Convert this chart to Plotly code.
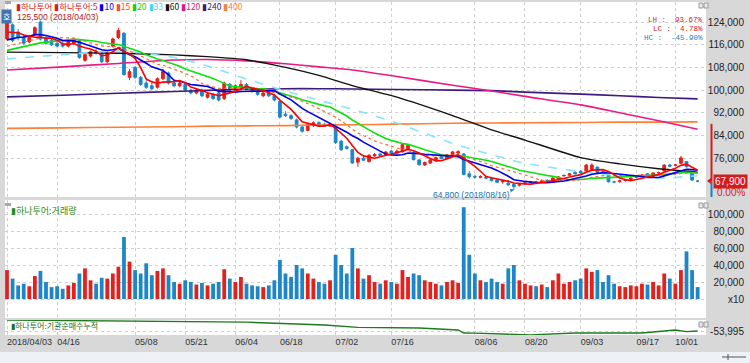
import plotly.graph_objects as go
import pandas as pd

# ---------------- data ----------------
dates = [
    "04/03","04/04","04/05","04/06","04/09","04/10","04/11","04/12","04/13","04/16",
    "04/17","04/18","04/19","04/20","04/23","04/24","04/25","04/26","04/27","04/30",
    "05/02","05/03","05/04","05/08","05/09","05/10","05/11","05/14","05/15","05/16",
    "05/17","05/18","05/21","05/23","05/24","05/25","05/28","05/29","05/30","05/31",
    "06/01","06/04","06/05","06/07","06/08","06/11","06/12","06/14","06/15","06/18",
    "06/19","06/20","06/21","06/22","06/25","06/26","06/27","06/28","06/29",
    "07/02","07/03","07/04","07/05","07/06","07/09","07/10","07/11","07/12","07/13",
    "07/16","07/17","07/18","07/19","07/20","07/23","07/24","07/25","07/26","07/27",
    "07/30","07/31",
    "08/01","08/02","08/03","08/06","08/07","08/08","08/09","08/10","08/13","08/14",
    "08/16","08/17","08/20","08/21","08/22","08/23","08/24","08/27","08/28","08/29",
    "08/30","08/31",
    "09/03","09/04","09/05","09/06","09/07","09/10","09/11","09/12","09/13","09/14",
    "09/17","09/18","09/19","09/20","09/21","09/27","09/28",
    "10/01","10/02","10/04","10/05","10/08",
]

opens = [118000,123000,120500,118500,117000,119500,124000,118500,117500,116500,
         116000,115500,116500,117500,110500,112000,113500,113000,110000,115500,
         118500,120000,104500,108000,104500,102500,101500,101000,104000,106000,
         102500,101500,102000,100000,99000,100000,97500,98500,99000,97000,
         102000,100000,101000,102000,100500,99500,98000,99000,98000,96000,
         91500,91000,89500,87000,85800,87500,88500,88000,87300,
         87000,82000,80000,79000,74600,76000,74800,76800,77500,77200,
         78500,77800,78300,79200,78000,75400,73600,74300,75400,76500,
         75800,77100,
         77800,77500,70500,69500,69300,69200,68800,68300,67700,67200,
         66800,66500,67000,67500,67600,67500,68200,67700,68400,69800,
         70000,71000,
         71400,71000,72000,72900,71300,70000,67600,67700,68100,68500,
         69300,69400,70500,69500,70800,71500,73600,
         73500,74200,74800,70800,67900]
highs = [125500,123500,121500,119500,119500,122500,124500,119000,118000,117500,
         117000,117500,118500,118000,113000,114000,114500,113500,113500,118500,
         122000,120500,107500,108500,105000,103500,102500,104500,107500,106500,
         103500,103000,102500,100500,100500,100500,99000,99000,99500,103000,
         102500,102000,103500,102500,101000,100000,99500,99500,98500,96500,
         92500,91500,90000,87500,88500,89000,89000,88500,88500,
         87500,82500,80500,79200,76500,76500,77500,77800,78000,78500,
         79000,79000,81200,80800,78300,75600,74800,75800,76600,77000,
         77500,78600,
         78800,77800,71500,70200,70000,69800,69300,68700,68500,68300,
         67200,67200,67800,68000,68000,68500,68600,69300,69700,70300,
         70800,71400,
         71800,74000,74200,73000,71500,70200,68000,68400,68700,69200,
         69800,70400,70800,71000,71300,73800,74000,
         74000,76800,75000,71000,68200]
lows = [117500,117000,117500,116000,116500,119000,117500,116000,115500,115000,
        115000,115000,116000,111000,110000,111500,112500,109500,109500,115000,
        118000,105000,103500,104000,101500,100500,100000,100500,103500,102000,
        101000,101000,99500,98500,98500,97500,97000,96500,96000,96500,
        99500,99500,100500,100000,99000,98000,97500,97500,96000,90000,
        90500,89500,86500,85000,85500,87000,87000,87000,87000,
        81000,78500,79000,74000,73000,75000,74500,76500,76800,77000,
        77500,77500,78000,78800,75200,73400,73300,74000,75000,75600,
        75600,76900,
        77500,70000,68800,68800,68900,68600,67800,67200,67000,66300,
        64800,66000,66800,67200,67000,67300,67800,67500,68200,69500,
        69800,70300,
        70600,70800,71600,70800,70500,67400,67200,67400,67800,68200,
        69000,69200,69800,69300,70500,71300,72800,
        73200,74000,72700,68000,67500]
closes = [124000,117500,118500,116500,118500,122000,118000,116500,116000,115500,
          115500,117000,118000,111500,112500,113500,113000,110000,113000,118000,
          121000,105500,106500,104500,102000,101000,100500,104000,106500,102500,
          101500,102500,100000,99000,100000,98000,98500,97000,96500,102500,
          100000,101500,102000,100500,99500,98500,99000,98000,96500,90500,
          91000,90000,87000,85500,88000,88500,87500,87200,88000,
          81500,79000,79500,74300,76000,75300,77000,77300,77000,78200,
          77800,78500,80800,80500,75500,73700,74500,75400,76200,75900,
          77200,78200,
          78300,70300,69500,69400,69500,69000,68100,67500,68000,66600,
          66000,66800,67300,67600,67500,68000,68000,69000,69400,69900,
          70500,70500,
          70800,73600,73600,71000,70800,67700,67600,68000,68300,69000,
          69500,70100,70000,70800,70900,73600,73200,
          73600,76100,73000,68300,67900]
volumes = [34000,24000,16000,18000,15000,27000,33000,20000,14000,15000,
           12000,16000,19000,30000,36000,22000,18000,25000,24000,30000,
           38000,73000,44000,34000,30000,42000,28000,33000,36000,28000,
           20000,18000,22000,20000,17000,19000,16000,18000,20000,35000,
           24000,20000,26000,18000,16000,15000,14000,16000,22000,46000,
           30000,26000,40000,36000,30000,24000,20000,18000,22000,
           52000,40000,30000,60000,36000,24000,28000,20000,18000,22000,
           20000,18000,34000,26000,30000,28000,22000,20000,18000,16000,
           20000,22000,
           19000,108000,52000,30000,22000,20000,24000,20000,18000,36000,
           40000,22000,18000,16000,15000,17000,14000,22000,30000,18000,
           20000,22000,
           24000,36000,32000,34000,20000,28000,18000,15000,14000,16000,
           15000,18000,17000,20000,16000,30000,24000,
           18000,34000,56000,34000,14000]

# closes before 2018/04/03 (estimated from where the short MA lines start)
prior_closes = [108000,109000,110500,109500,111000,110000,111500,112000,110500,111000,
                113000,114500,115000,116000,116000,118000,119500,120500,120500]

# long moving averages
ma_dates = ["04/03","04/17","05/02","05/17","05/28","06/07","06/19","06/27","07/05",
            "07/17","07/31","08/09","08/20","09/03","09/12","09/21","10/08"]
ma33_vals  = [111000,112500,113800,111500,108500,103900,99700,96400,93300,
              88400,81200,77200,74200,71300,69900,69000,69800]
ma60_vals  = [113400,113200,113000,112400,111800,110700,108000,105200,101600,
              97500,91000,86000,82400,76200,74000,72300,71100]
ma120_vals = [107100,108200,109400,110600,110800,110300,109300,108200,107100,
              104800,101700,99700,97800,94800,92000,89200,86200]
ma240_vals = [97600,98200,98900,99500,99900,100300,100500,100500,100400,
              100200,100000,99800,99300,98600,98000,97400,96900]
ma400_vals = [86500,86700,86900,87100,87300,87400,87500,87700,87800,
              88000,88300,88400,88500,88600,88700,88700,88800]

# institutional net buying (cumulative)
inst_dates = ["04/03","04/26","05/25","06/07","06/21","06/28","07/06","07/23","08/01",
              "08/02","08/06","08/21","08/31","09/18","10/01","10/04","10/08"]
inst_vals = [-21000,-24000,-27000,-27500,-33000,-36000,-43000,-45000,-51000,
             -60000,-60500,-65500,-60000,-60000,-51000,-56000,-53995]

tick_dates = ["04/03","04/16","05/08","05/21","06/04","06/18","07/02","07/16",
              "08/06","08/20","09/03","09/17","10/01"]
tick_labels = ["2018/04/03","04/16","05/08","05/21","06/04","06/18","07/02","07/16",
               "08/06","08/20","09/03","09/17","10/01"]

price_ticks = [76000, 84000, 92000, 100000, 108000, 116000, 124000]
vol_ticks = [0, 20000, 40000, 60000, 80000, 100000]
vol_tick_labels = ["x10", "20,000", "40,000", "60,000", "80,000", "100,000"]

# ---------------- build ----------------
N = len(dates)
xi = list(range(N))
pos = {d: i for i, d in enumerate(dates)}

allc = pd.Series(prior_closes + closes, dtype=float)
def sma(n):
    return allc.rolling(n).mean().iloc[len(prior_closes):].tolist()

RED = "#e3211c"
BLUE = "#1c86c8"

W, H = 750, 363
ML, MR, MT, MB = 5, 3, 2, 28
PW, PH = W - ML - MR, H - MT - MB
def px(x):
    return (x - ML) / PW
def py(y):
    return (H - MB - y) / PH

xdom = [0, px(706)]
xr = [-0.36, 125.5]

fig = go.Figure()

fig.add_trace(go.Candlestick(
    x=xi, open=opens, high=highs, low=lows, close=closes,
    increasing=dict(line=dict(color=RED, width=1), fillcolor=RED),
    decreasing=dict(line=dict(color=BLUE, width=1), fillcolor=BLUE),
    whiskerwidth=0, showlegend=False, hoverinfo="skip", xaxis="x", yaxis="y"))

sparse_x = [pos[d] for d in ma_dates]
for vals, col, wd, dash in [
        (ma400_vals, "#ff7f3a", 1.6, "solid"),
        (ma240_vals, "#3f1a7e", 1.6, "solid"),
        (ma120_vals, "#ea1a84", 1.6, "solid"),
        (ma60_vals, "#111111", 1.4, "solid"),
        (ma33_vals, "#86e4ff", 1.6, "dash")]:
    fig.add_trace(go.Scatter(x=sparse_x, y=vals, mode="lines",
                             line=dict(color=col, width=wd, dash=dash, shape="spline", smoothing=0.6),
                             showlegend=False, hoverinfo="skip", xaxis="x", yaxis="y"))

for n, col, wd, dash in [(20, "#10e010", 1.6, "solid"), (15, "#ff6a3a", 1.2, "dot"),
                         (10, "#0000e6", 1.6, "solid"), (5, "#ff0000", 1.6, "solid")]:
    fig.add_trace(go.Scatter(x=xi, y=sma(n), mode="lines",
                             line=dict(color=col, width=wd, dash=dash),
                             showlegend=False, hoverinfo="skip", xaxis="x", yaxis="y"))

vcol = [RED if c > o else BLUE for o, c in zip(opens, closes)]
fig.add_trace(go.Bar(x=xi, y=volumes, marker=dict(color=vcol, line=dict(width=0)),
                     width=0.68, showlegend=False, hoverinfo="skip", xaxis="x2", yaxis="y2"))

fig.add_trace(go.Scatter(x=[pos[d] for d in inst_dates], y=inst_vals, mode="lines",
                         line=dict(color="#1f7a1f", width=1.4),
                         showlegend=False, hoverinfo="skip", xaxis="x3", yaxis="y3"))

GRID = "#cfcfcf"
TF = dict(size=10, color="#222222", family="Liberation Sans, Noto Sans CJK KR")
tickvals = [pos[d] for d in tick_dates]

xbase = dict(domain=xdom, range=xr, tickvals=tickvals, showgrid=True, gridcolor=GRID,
             griddash="dot", gridwidth=1, zeroline=False, ticks="", showline=False)
yfree = dict(anchor="free", position=1.0, side="left", showgrid=True, gridcolor=GRID,
             griddash="dot", zeroline=False, ticks="", tickfont=TF, showline=False,
             ticklabelstandoff=3, automargin=False)

fig.update_layout(
    width=W, height=H,
    margin=dict(l=ML, r=MR, t=MT, b=MB),
    paper_bgcolor="#d8d8d8", plot_bgcolor="#ffffff",
    font=dict(family="Liberation Sans, Noto Sans CJK KR", size=10, color="#222"),
    bargap=0.3,
    xaxis=dict(**xbase, anchor="y", showticklabels=False, rangeslider=dict(visible=False)),
    xaxis2=dict(**xbase, anchor="y2", matches="x", showticklabels=False),
    xaxis3=dict(**xbase, anchor="y3", matches="x", showticklabels=True,
                ticktext=tick_labels, ticklabelposition="outside right",
                tickfont=dict(size=9, color="#333", family="Liberation Sans")),
    yaxis=dict(**yfree, domain=[py(197), py(2)], range=[62330, 131048],
               tickvals=price_ticks, tickformat=","),
    yaxis2=dict(**yfree, domain=[py(318), py(200)], range=[-22350, 116470],
                tickvals=vol_ticks, ticktext=vol_tick_labels),
    yaxis3=dict(**yfree, domain=[0, py(320)], range=[-65995, -20995],
                tickvals=[inst_vals[-1]], ticktext=[f"{inst_vals[-1]:,}"]),
)

shapes = []
# bottom scrollbar strip
shapes.append(dict(type="rect", xref="paper", yref="paper", x0=px(0), x1=px(750),
                   y0=py(363), y1=py(352), fillcolor="#eef1f5", line=dict(width=0)))
shapes.append(dict(type="line", xref="paper", yref="paper", x0=px(722), x1=px(746),
                   y0=py(357), y1=py(357), line=dict(color="#555", width=1)))
shapes.append(dict(type="line", xref="paper", yref="paper", x0=px(728), x1=px(728),
                   y0=py(354), y1=py(360), line=dict(color="#555", width=1)))
# window buttons on each panel
for yb in (3, 203, 322):
    for xb in (699, 704):
        shapes.append(dict(type="rect", xref="paper", yref="paper", x0=px(xb), x1=px(xb + 4),
                           y0=py(yb + 5), y1=py(yb), fillcolor="#e8e8e8",
                           line=dict(color="#9a9a9a", width=1)))
# small grip icons
for yb in (1, 203):
    shapes.append(dict(type="rect", xref="paper", yref="paper", x0=px(5), x1=px(11),
                       y0=py(yb + 3), y1=py(yb), fillcolor="#a8a8a8", line=dict(width=0)))
# current price bar on the price axis
shapes.append(dict(type="line", xref="paper", yref="y", x0=px(711.5), x1=px(711.5),
                   y0=closes[-1], y1=ma400_vals[-1] - 700, line=dict(color="#d41c1c", width=2)))
shapes.append(dict(type="line", xref="paper", yref="y", x0=px(711.5), x1=px(711.5),
                   y0=62330, y1=closes[-1], line=dict(color="#1c7fc8", width=2)))
shapes.append(dict(type="path", xref="paper", yref="paper",
                   path=f"M {px(707)} {py(181)} L {px(711)} {py(178)} L {px(711)} {py(184)} Z",
                   fillcolor="#d41c1c", line=dict(width=0)))
fig.update_layout(shapes=shapes)

ann = []
legend_html = (
    "<span style='color:#d42020'>▮하나투어</span> "
    "<span style='color:#d42020'>▮하나투어:5</span> "
    "<span style='color:#0000e6'>▮10</span> "
    "<span style='color:#ff4a2a'>▮15</span> "
    "<span style='color:#10d010'>▮20</span> "
    "<span style='color:#40d8f0'>▮33</span> "
    "<span style='color:#111111'>▮60</span> "
    "<span style='color:#e0187c'>▮120</span> "
    "<span style='color:#3f1a7e'>▮240</span> "
    "<span style='color:#ff7f3a'>▮400</span>")
ann.append(dict(xref="paper", yref="paper", x=px(14), y=py(5.5), xanchor="left", yanchor="middle",
                text=legend_html, showarrow=False,
                font=dict(size=8.5, family="Noto Sans CJK KR, Liberation Sans")))
hi_i = highs.index(max(highs))
ann.append(dict(xref="x", yref="y", x=hi_i, y=highs[hi_i], xanchor="left", yanchor="middle",
                xshift=8, yshift=1, showarrow=False,
                text=f"{highs[hi_i]:,} (2018/{dates[hi_i]})",
                font=dict(size=8.5, color="#b01818", family="Liberation Sans")))
lo_i = lows.index(min(lows))
ann.append(dict(xref="x", yref="y", x=lo_i, y=lows[lo_i], ax=-42, ay=5,
                showarrow=True, arrowhead=2, arrowsize=0.7, arrowwidth=1, arrowcolor="#1c6fb0",
                text=f"{lows[lo_i]:,} (2018/{dates[lo_i]})",
                font=dict(size=8.5, color="#1c6fb0", family="Liberation Sans")))
ann.append(dict(xref="paper", yref="paper", x=px(1), y=py(17), xanchor="left", yanchor="middle",
                text="호", showarrow=False, bgcolor="#3f74b0",
                font=dict(size=8, color="white", family="Noto Sans CJK KR"), borderpad=1))
hi, lo, last = max(highs), min(lows), closes[-1]
stats = [("LH", (hi / lo - 1) * 100, "#d42020"), ("LC", (last / lo - 1) * 100, "#d42020"),
         ("HC", (last / hi - 1) * 100, "#1c7fc8")]
for k, (lab, v, col) in enumerate(stats):
    ann.append(dict(xref="paper", yref="paper", x=px(705), y=py(20 + 9 * k), xanchor="right",
                    yanchor="middle", showarrow=False, text=f"{lab} :  {v:.2f}%",
                    font=dict(size=7.5, color=col, family="Liberation Mono")))
ann.append(dict(xref="paper", yref="y", x=px(748), y=last, xanchor="right", yanchor="middle",
                showarrow=False, text=f"{last:,}", bgcolor="#d41c1c", borderpad=1,
                font=dict(size=10, color="white", family="Liberation Sans")))
ann.append(dict(xref="paper", yref="y", x=px(747), y=last, yshift=-11, xanchor="right",
                yanchor="middle", showarrow=False, text="0.00%",
                font=dict(size=10, color="#d41c1c", family="Liberation Sans")))
ann.append(dict(xref="paper", yref="paper", x=px(9), y=py(210), xanchor="left", yanchor="middle",
                showarrow=False, text="▮하나투어:거래량",
                font=dict(size=9, color="#1f8a1f", family="Noto Sans CJK KR")))
ann.append(dict(xref="paper", yref="paper", x=px(9), y=py(325), xanchor="left", yanchor="middle",
                showarrow=False, text="▮하나투어:기관순매수누적",
                font=dict(size=8, color="#1f6a1f", family="Noto Sans CJK KR")))
fig.update_layout(annotations=ann)

fig.write_html("out.html", config={"displayModeBar": False},
               post_script="document.body.style.margin='0';document.body.style.overflow='hidden';")
